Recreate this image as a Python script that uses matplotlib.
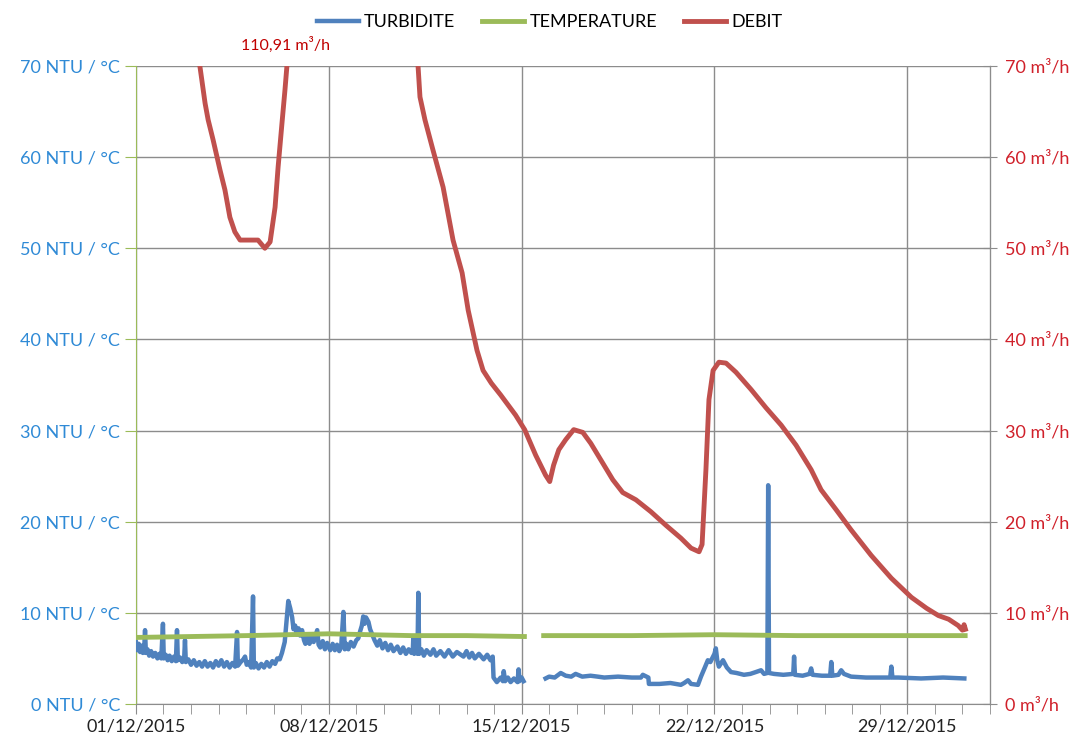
import matplotlib
matplotlib.use('Agg')
import matplotlib.pyplot as plt
from matplotlib.ticker import MultipleLocator, FuncFormatter
from datetime import datetime, timedelta

plt.rcParams['font.family'] = ['Lato', 'DejaVu Sans']

# jours depuis le 01/12/2015 00:00
turb1_j = [0.00, 0.05, 0.10, 0.15, 0.20, 0.25, 0.30, 0.33, 0.36, 0.42, 0.48, 0.55, 0.62, 0.70, 0.78, 0.85,
           0.92, 0.98, 1.01, 1.08, 1.15, 1.22, 1.30, 1.38, 1.45, 1.49, 1.52, 1.60, 1.68, 1.75, 1.78, 1.81,
           1.90, 2.00, 2.10, 2.20, 2.30, 2.40, 2.50, 2.60, 2.70, 2.80, 2.90, 3.00, 3.10, 3.20, 3.30, 3.40,
           3.50, 3.60, 3.67, 3.70, 3.80, 3.90, 3.96, 4.02, 4.10, 4.18, 4.25, 4.28, 4.35, 4.45, 4.55, 4.65,
           4.75, 4.85, 4.95, 5.05, 5.13, 5.22, 5.30, 5.40, 5.48, 5.53, 5.60, 5.67, 5.72, 5.78, 5.84, 5.90,
           5.96, 6.03, 6.10, 6.15, 6.22, 6.30, 6.40, 6.45, 6.50, 6.58, 6.63, 6.69, 6.78, 6.86, 6.94, 7.05,
           7.14, 7.22, 7.30, 7.38, 7.45, 7.53, 7.58, 7.64, 7.71, 7.80, 7.90, 8.00, 8.07, 8.14, 8.20, 8.25,
           8.30, 8.35, 8.44, 8.50, 8.58, 8.66, 8.76, 8.85, 8.95, 9.05, 9.15, 9.25, 9.35, 9.49, 9.60, 9.70,
           9.80, 9.90, 10.00, 10.05, 10.07, 10.10, 10.16, 10.22, 10.25, 10.28, 10.36, 10.45, 10.55, 10.69,
           10.80, 10.90, 11.05, 11.20, 11.35, 11.50, 11.65, 11.89, 12.00, 12.10, 12.20, 12.30, 12.45,
           12.62, 12.75, 12.87, 12.95, 12.98, 13.10, 13.24, 13.32, 13.35, 13.40, 13.50, 13.60, 13.72,
           13.85, 13.89, 13.92, 14.00, 14.07]
turb1_v = [6.8, 5.9, 6.6, 5.7, 6.4, 5.6, 6.1, 8.1, 5.6, 6.0, 5.3, 5.8, 5.2, 5.6, 5.0, 5.5,
           5.0, 8.8, 5.0, 5.4, 4.8, 5.3, 4.7, 5.2, 4.7, 8.1, 4.8, 5.1, 4.6, 5.0, 7.0, 4.6,
           4.9, 4.3, 4.8, 4.2, 4.6, 4.1, 4.7, 4.1, 4.5, 4.0, 4.7, 4.2, 4.8, 4.1, 4.6, 4.0,
           4.5, 4.1, 7.9, 4.2, 4.6, 4.9, 5.2, 4.3, 4.6, 4.0, 11.8, 4.0, 4.5, 3.9, 4.4, 4.0,
           4.6, 4.1, 4.7, 4.4, 5.0, 4.9, 5.6, 6.8, 9.5, 11.3, 10.5, 9.5, 8.2, 8.6, 7.6, 8.3,
           7.5, 8.1, 7.0, 6.6, 7.4, 6.6, 7.6, 6.8, 7.3, 8.1, 6.5, 6.2, 6.9, 6.0, 6.7, 5.9,
           6.6, 5.9, 6.5, 5.8, 6.3, 10.1, 6.0, 6.6, 6.0, 6.8, 6.3, 7.0, 7.2, 8.0, 8.6, 9.6,
           8.8, 9.5, 9.0, 8.2, 7.6, 7.0, 6.4, 7.0, 6.1, 6.7, 5.9, 6.5, 5.8, 6.3, 5.6, 6.2,
           5.5, 6.0, 5.6, 5.9, 7.4, 5.5, 6.0, 5.5, 12.2, 5.5, 6.0, 5.3, 5.9, 5.4,
           6.0, 5.3, 5.8, 5.2, 5.9, 5.2, 5.7, 5.2, 5.8, 5.1, 5.6, 5.0, 5.5,
           4.9, 5.4, 4.8, 5.2, 2.9, 2.4, 2.9, 2.5, 3.6, 2.5, 2.9, 2.4, 2.8,
           2.4, 3.8, 2.5, 2.9, 2.5]

turb2_j = [14.87, 15.00, 15.20, 15.42, 15.60, 15.80, 15.96, 16.20, 16.50, 16.76, 17.00, 17.50, 18.00,
           18.33, 18.40, 18.60, 18.62, 19.00, 19.40, 19.78, 19.90, 20.04, 20.15, 20.40, 20.51, 20.65,
           20.76, 20.85, 20.95, 21.00, 21.05, 21.10, 21.16, 21.31, 21.45, 21.60, 21.80, 22.07, 22.30,
           22.50, 22.69, 22.80, 22.92, 22.95, 22.98, 23.16, 23.50, 23.86, 23.89, 23.92, 24.20, 24.45,
           24.51, 24.56, 24.90, 25.20, 25.24, 25.28, 25.50, 25.60, 25.70, 25.96, 26.50, 27.00, 27.38,
           27.42, 27.46, 27.67, 28.50, 29.30, 30.07]
turb2_v = [2.8, 3.0, 2.9, 3.4, 3.1, 3.0, 3.3, 3.0, 3.1, 3.0, 2.9, 3.0, 2.9,
           2.9, 3.2, 2.9, 2.2, 2.2, 2.3, 2.1, 2.3, 2.6, 2.2, 2.1, 3.0, 4.0,
           4.8, 4.6, 5.2, 5.5, 6.1, 4.8, 4.1, 4.8, 4.0, 3.5, 3.4, 3.2, 3.3,
           3.5, 3.7, 3.3, 3.4, 24.0, 3.4, 3.3, 3.2, 3.3, 5.2, 3.2, 3.1, 3.3,
           3.9, 3.2, 3.1, 3.1, 4.6, 3.1, 3.2, 3.7, 3.3, 3.0, 2.9, 2.9, 2.9,
           4.1, 2.9, 2.9, 2.8, 2.9, 2.8]

temp1_j = [0.0, 2.0, 4.0, 5.5, 7.0, 8.5, 10.0, 12.0, 14.1]
temp1_v = [7.3, 7.4, 7.5, 7.6, 7.7, 7.6, 7.5, 7.5, 7.4]
temp2_j = [14.8, 18.0, 21.0, 24.0, 27.0, 30.1]
temp2_v = [7.5, 7.5, 7.6, 7.5, 7.5, 7.5]

debit_j = [0.0, 1.0, 2.32, 2.51, 2.62, 2.80, 3.05, 3.23, 3.41, 3.59, 3.78, 4.10, 4.43, 4.68, 4.87,
           5.05, 5.16, 5.30, 5.41, 5.48, 6.0, 6.8, 8.0, 9.2, 10.24, 10.31, 10.49, 10.78, 11.15, 11.51,
           11.84, 12.06, 12.38, 12.60, 12.90, 13.24, 13.78, 14.11, 14.51, 14.87, 15.02, 15.16, 15.35,
           15.60, 15.89, 16.22, 16.51, 16.87, 17.31, 17.67, 18.15, 18.69, 19.24, 19.78, 20.15, 20.44,
           20.55, 20.69, 20.80, 20.95, 21.16, 21.42, 21.78, 22.33, 22.87, 23.42, 23.96, 24.51, 24.87,
           25.42, 25.96, 26.69, 27.42, 28.15, 28.70, 29.13, 29.50, 29.85, 30.00, 30.06, 30.11]
debit_v = [92, 82, 70, 65.9, 64.1, 61.9, 58.6, 56.4, 53.4, 51.8, 50.9, 50.9, 50.9, 50.0, 50.7,
           54.5, 58.9, 63.7, 67.4, 70, 95, 110.91, 104, 88, 70, 66.6, 64.1, 60.8, 56.7, 50.9,
           47.3, 43.2, 38.8, 36.6, 35.2, 33.9, 31.7, 30.1, 27.3, 25.1, 24.4, 26.2, 27.9,
           29.0, 30.1, 29.8, 28.6, 26.8, 24.6, 23.2, 22.4, 21.1, 19.6, 18.2, 17.1, 16.7,
           17.5, 25.7, 33.4, 36.6, 37.5, 37.4, 36.4, 34.5, 32.5, 30.6, 28.4, 25.7, 23.5,
           21.3, 19.1, 16.3, 13.8, 11.7, 10.5, 9.7, 9.3, 8.6, 8.1, 8.7, 8.2]

debit_max = 110.91
debut = datetime(2015, 12, 1)

c_turb = '#4f81bd'
c_temp = '#9bbb59'
c_debit = '#c0504d'
c_gris = '#8c8c8c'

fig = plt.figure(figsize=(10.85, 7.44), dpi=100)
ax = fig.add_axes([0.1253, 0.0538, 0.7871, 0.8575])
ax2 = ax.twinx()

l1, = ax.plot(turb1_j, turb1_v, color=c_turb, lw=3.2, label='TURBIDITE', zorder=3)
ax.plot(turb2_j, turb2_v, color=c_turb, lw=3.2, zorder=3)
l2, = ax.plot(temp1_j, temp1_v, color=c_temp, lw=3.5, label='TEMPERATURE', zorder=4)
ax.plot(temp2_j, temp2_v, color=c_temp, lw=3.5, zorder=4)
l3, = ax2.plot(debit_j, debit_v, color=c_debit, lw=3.5, label='DEBIT')

for a in (ax, ax2):
    a.set_ylim(0, 70)
    a.set_xlim(0, 31)
    a.yaxis.set_major_locator(MultipleLocator(10))

ax.xaxis.set_major_locator(MultipleLocator(7))
ax.xaxis.set_minor_locator(MultipleLocator(1))
ax.xaxis.set_major_formatter(FuncFormatter(
    lambda x, p: (debut + timedelta(days=x)).strftime('%d/%m/%Y')))
ax.yaxis.set_major_formatter(FuncFormatter(lambda v, p: f'{int(v)} NTU / °C'))
ax2.yaxis.set_major_formatter(FuncFormatter(lambda v, p: f'{int(v)} m³/h'))

ax.grid(True, which='major', color=c_gris, lw=1)
ax.set_axisbelow(True)

ax.spines['top'].set_visible(False)
ax2.spines['top'].set_visible(False)
ax.spines['left'].set_color(c_temp)
ax.spines['bottom'].set_color(c_gris)
ax2.spines['right'].set_color(c_gris)
ax2.spines['left'].set_visible(False)
ax2.spines['bottom'].set_visible(False)

ax.tick_params(axis='y', colors=c_temp, labelcolor='#2f8ad6', labelsize=13, length=8, direction='out')
ax2.tick_params(axis='y', colors=c_gris, labelcolor='#d0202a', labelsize=13, length=10, direction='inout', pad=6)
ax.tick_params(axis='x', which='major', colors=c_gris, labelcolor='#222222', labelsize=13, length=7)
ax.tick_params(axis='x', which='minor', colors=c_gris, length=7)

ax2.text(5.42, 72.3, f'{debit_max:.2f}'.replace('.', ',') + ' m³/h', color='#c00000',
         fontsize=11.5, ha='center', va='center', clip_on=False)

fig.legend(handles=[l1, l2, l3], loc='center', bbox_to_anchor=(0.5065, 0.970), ncol=3,
           frameon=False, fontsize=13, handlelength=2.3, handletextpad=0.3, columnspacing=1.5)

fig.savefig('out.png', dpi=100)
